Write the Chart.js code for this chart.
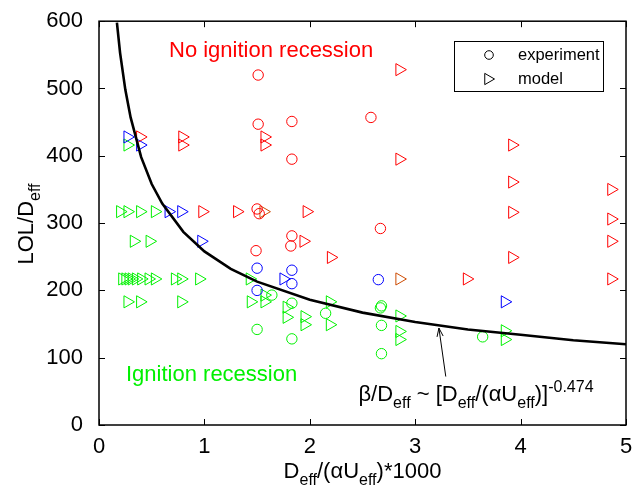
<!DOCTYPE html>
<html>
<head>
<meta charset="utf-8">
<script src="https://cdn.jsdelivr.net/npm/chart.js@4.4.0/dist/chart.umd.min.js"></script>
<style>
html, body { margin: 0; padding: 0; background: #fff; }
</style>
</head>
<body>
<canvas id="graficaLOL" width="639" height="489"></canvas>
<script>
// Ejes
const ticksX = [0, 1, 2, 3, 4, 5];
const ticksY = [0, 100, 200, 300, 400, 500, 600];

// Experimentos (círculos)
const expRojoX = [1.51, 1.51, 1.83, 1.83, 2.58, 1.50, 1.52, 1.83, 1.82, 1.49, 2.67];
const expRojoY = [520, 447, 451, 395, 457, 321, 314, 281, 266, 259, 292];
const expAzulX = [1.50, 1.83, 1.83, 1.50, 2.65];
const expAzulY = [233, 230, 210, 200, 216];
const expVerdeX = [1.64, 1.83, 2.15, 1.50, 1.83, 2.68, 2.67, 2.68, 2.68, 3.64];
const expVerdeY = [193, 181, 166, 142, 128, 177, 174, 148, 106, 131];

// Modelo (triángulos)
const modRojoX = [0.39, 0.79, 0.79, 1.57, 1.57, 0.98, 1.31, 1.97, 1.94, 2.20, 2.85, 2.85, 3.49, 3.92, 3.92, 3.92, 3.92, 4.86, 4.86, 4.86, 4.86];
const modRojoY = [428, 428, 416, 428, 416, 317, 317, 317, 273, 249, 528, 395, 217, 416, 361, 316, 249, 350, 306, 273, 217];
const modAzulX = [0.27, 0.39, 0.66, 0.78, 0.97, 1.75, 3.85];
const modAzulY = [428, 416, 317, 317, 273, 217, 183];
const modVerdeX = [0.27, 0.20, 0.27, 0.39, 0.53, 0.33, 0.48,
                   0.22, 0.25, 0.28, 0.31, 0.35, 0.40, 0.47, 0.53, 0.72, 0.78, 0.95, 1.43,
                   0.27, 0.39, 0.78, 1.44, 1.57, 1.57,
                   1.78, 1.78, 1.95, 1.95, 2.19, 2.19,
                   2.85, 2.85, 2.85, 3.85, 3.85];
const modVerdeY = [416, 317, 317, 317, 317, 273, 273,
                   217, 217, 217, 217, 217, 217, 217, 217, 217, 217, 217, 217,
                   183, 183, 183, 183, 183, 193,
                   175, 160, 161, 149, 183, 149,
                   162, 139, 127, 140, 127];
const modCafeX = [1.56, 2.85];
const modCafeY = [317, 217];

// Curva de ajuste beta/Deff
const curvaX = [0.17, 0.2, 0.25, 0.3, 0.4, 0.5, 0.6, 0.8, 1.0, 1.25, 1.5, 2.0, 2.5, 3.0, 3.5, 4.0, 4.5, 5.0];
const curvaY = [598, 553, 498, 457, 398, 358, 329, 287, 258, 232, 213, 186, 167, 153, 142, 134, 126, 120];

// Flecha hacia la curva
const flechaX = [3.29, 3.225];
const flechaY = [72, 144];

const FUENTE = '"Liberation Sans", Arial, sans-serif';
const VERDE = '#00f000';

function puntos(xs, ys) {
    return xs.map((x, i) => ({ x: x, y: ys[i] }));
}

function serie(xs, ys, color, forma) {
    return {
        data: puntos(xs, ys),
        showLine: false,
        borderColor: color,
        backgroundColor: 'rgba(0,0,0,0)',
        pointStyle: forma,
        pointRotation: forma === 'triangle' ? 90 : 0,
        pointRadius: forma === 'triangle' ? 7 : 5.2,
        pointBorderWidth: 1,
        pointHoverRadius: 0
    };
}

// texto con subíndices (1) y superíndices (2)
function textoRico(ctx, partes, x, y, tam, alinear) {
    const chico = Math.round(tam * 0.72);
    let ancho = 0;
    partes.forEach(p => {
        ctx.font = (p[1] ? chico : tam) + 'px ' + FUENTE;
        ancho += ctx.measureText(p[0]).width;
    });
    let cx = alinear === 'center' ? x - ancho / 2 : x;
    ctx.textAlign = 'left';
    ctx.textBaseline = 'alphabetic';
    partes.forEach(p => {
        ctx.font = (p[1] ? chico : tam) + 'px ' + FUENTE;
        let dy = 0;
        if (p[1] === 1) dy = tam * 0.3;
        if (p[1] === 2) dy = -tam * 0.4;
        ctx.fillText(p[0], cx, y + dy);
        cx += ctx.measureText(p[0]).width;
    });
}

const decorado = {
    id: 'decorado',
    afterDraw(chart) {
        const ctx = chart.ctx;
        const a = chart.chartArea;
        const sx = chart.scales.x, sy = chart.scales.y;
        ctx.save();

        // marco y marcas hacia adentro
        ctx.strokeStyle = '#000';
        ctx.lineWidth = 1.5;
        ctx.strokeRect(a.left, a.top, a.right - a.left, a.bottom - a.top);
        ctx.lineWidth = 1;
        ctx.beginPath();
        ticksX.forEach(v => {
            const px = Math.round(sx.getPixelForValue(v)) + 0.5;
            ctx.moveTo(px, a.bottom); ctx.lineTo(px, a.bottom - 6);
            ctx.moveTo(px, a.top); ctx.lineTo(px, a.top + 6);
        });
        ticksY.forEach(v => {
            const py = Math.round(sy.getPixelForValue(v)) + 0.5;
            ctx.moveTo(a.left, py); ctx.lineTo(a.left + 6, py);
            ctx.moveTo(a.right, py); ctx.lineTo(a.right - 6, py);
        });
        ctx.stroke();

        // flecha
        const x0 = sx.getPixelForValue(flechaX[0]), y0 = sy.getPixelForValue(flechaY[0]);
        const x1 = sx.getPixelForValue(flechaX[1]), y1 = sy.getPixelForValue(flechaY[1]);
        const ang = Math.atan2(y1 - y0, x1 - x0);
        ctx.beginPath();
        ctx.moveTo(x0, y0); ctx.lineTo(x1, y1);
        ctx.moveTo(x1 - 9 * Math.cos(ang - 0.35), y1 - 9 * Math.sin(ang - 0.35));
        ctx.lineTo(x1, y1);
        ctx.lineTo(x1 - 9 * Math.cos(ang + 0.35), y1 - 9 * Math.sin(ang + 0.35));
        ctx.stroke();

        // textos de regiones
        ctx.fillStyle = '#ff0000';
        textoRico(ctx, [['No ignition recession', 0]], 169, 57, 22, 'left');
        ctx.fillStyle = VERDE;
        textoRico(ctx, [['Ignition recession', 0]], 126, 381, 22, 'left');

        ctx.fillStyle = '#000';
        textoRico(ctx, [['β/D', 0], ['eff', 1], [' ~ [D', 0], ['eff', 1], ['/(αU', 0], ['eff', 1], [')]', 0], ['-0.474', 2]],
            476, 401, 22, 'center');

        // títulos de ejes
        textoRico(ctx, [['D', 0], ['eff', 1], ['/(αU', 0], ['eff', 1], [')*1000', 0]],
            (a.left + a.right) / 2, 478, 22, 'center');
        ctx.save();
        ctx.translate(33, 224);
        ctx.rotate(-Math.PI / 2);
        textoRico(ctx, [['LOL/D', 0], ['eff', 1]], 0, 0, 22, 'center');
        ctx.restore();

        // leyenda
        ctx.lineWidth = 1;
        ctx.strokeStyle = '#000';
        ctx.fillStyle = 'rgba(0,0,0,0)';
        ctx.strokeRect(454.5, 41.5, 149, 50);
        Chart.helpers.drawPoint(ctx, { pointStyle: 'circle', radius: 4.3, rotation: 0, borderWidth: 1 }, 489, 55);
        Chart.helpers.drawPoint(ctx, { pointStyle: 'triangle', radius: 6.5, rotation: 90, borderWidth: 1 }, 488, 79);
        ctx.fillStyle = '#000';
        ctx.font = '16.5px ' + FUENTE;
        ctx.textAlign = 'left';
        ctx.textBaseline = 'middle';
        ctx.fillText('experiment', 518, 55);
        ctx.fillText('model', 518, 79);

        ctx.restore();
    }
};

new Chart(document.getElementById('graficaLOL'), {
    type: 'scatter',
    data: {
        datasets: [
            {
                type: 'line',
                data: puntos(curvaX, curvaY),
                borderColor: '#000',
                borderWidth: 2.6,
                pointRadius: 0,
                fill: false,
                tension: 0
            },
            serie(expRojoX, expRojoY, '#ff0000', 'circle'),
            serie(expAzulX, expAzulY, '#0000ff', 'circle'),
            serie(expVerdeX, expVerdeY, VERDE, 'circle'),
            serie(modRojoX, modRojoY, '#ff0000', 'triangle'),
            serie(modAzulX, modAzulY, '#0000ff', 'triangle'),
            serie(modVerdeX, modVerdeY, VERDE, 'triangle'),
            serie(modCafeX, modCafeY, '#cc4a00', 'triangle')
        ]
    },
    options: {
        responsive: false,
        animation: false,
        devicePixelRatio: 1,
        layout: { padding: { top: 21, right: 13, left: 0, bottom: 0 } },
        plugins: {
            legend: { display: false },
            tooltip: { enabled: false }
        },
        scales: {
            x: {
                type: 'linear',
                min: 0, max: 5,
                afterBuildTicks: s => { s.ticks = ticksX.map(v => ({ value: v })); },
                afterFit: s => { s.height = 64; },
                grid: { display: false },
                border: { display: false },
                ticks: { color: '#000', font: { size: 22, family: FUENTE }, padding: 1, maxRotation: 0 }
            },
            y: {
                type: 'linear',
                min: 0, max: 600,
                afterBuildTicks: s => { s.ticks = ticksY.map(v => ({ value: v })); },
                afterFit: s => { s.width = 99; },
                grid: { display: false },
                border: { display: false },
                ticks: { color: '#000', font: { size: 22, family: FUENTE }, padding: 8 }
            }
        }
    },
    plugins: [decorado]
});
</script>
</body>
</html>
